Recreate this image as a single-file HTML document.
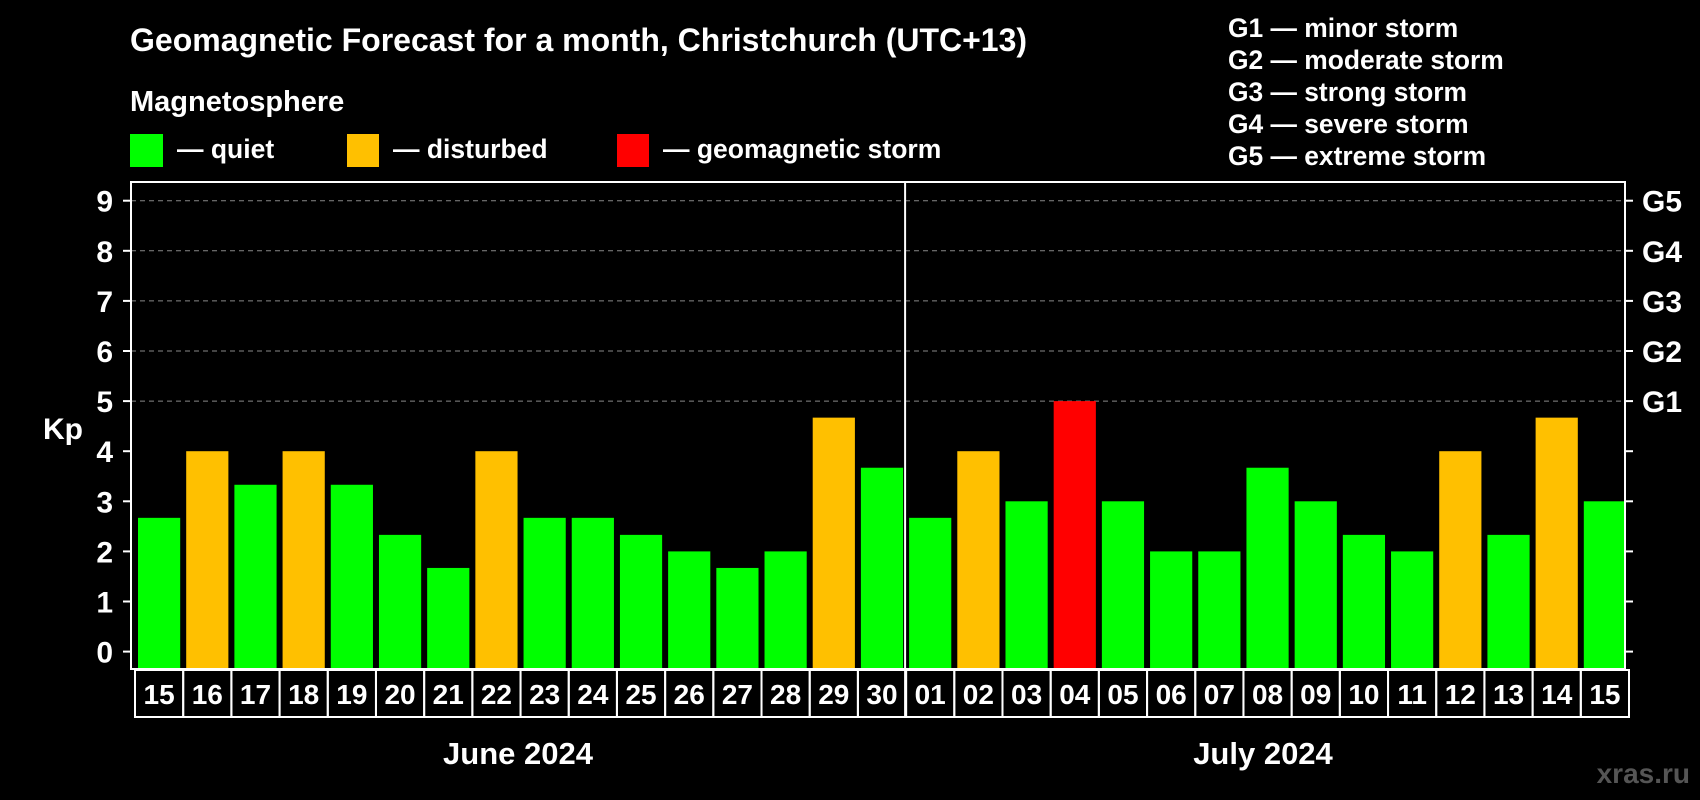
<!DOCTYPE html>
<html><head><meta charset="utf-8"><style>
html,body{margin:0;padding:0;background:#000;}
svg{display:block;font-family:"Liberation Sans",Arial,sans-serif;font-weight:bold;}
</style></head><body>
<svg id="chart" width="1700" height="800" viewBox="0 0 1700 800">
<rect width="1700" height="800" fill="#000"/>
<text x="130" y="51" fill="#fff" font-size="32">Geomagnetic Forecast for a month, Christchurch (UTC+13)</text>
<text x="130" y="111" fill="#fff" font-size="29">Magnetosphere</text>
<g><rect x="130" y="134" width="33" height="33" fill="#00ff00"/><text x="177" y="158" fill="#fff" font-size="26.5">— quiet</text></g>
<g><rect x="347" y="134" width="32" height="33" fill="#ffc000"/><text x="393" y="158" fill="#fff" font-size="26.5">— disturbed</text></g>
<g><rect x="617" y="134" width="32" height="33" fill="#ff0000"/><text x="663" y="158" fill="#fff" font-size="26.5">— geomagnetic storm</text></g>
<g fill="#fff" font-size="26.4">
<text x="1228" y="37">G1 — minor storm</text>
<text x="1228" y="69">G2 — moderate storm</text>
<text x="1228" y="101">G3 — strong storm</text>
<text x="1228" y="133">G4 — severe storm</text>
<text x="1228" y="165">G5 — extreme storm</text>
</g>
<text x="63" y="439" fill="#fff" font-size="30" text-anchor="middle">Kp</text>
<g id="grid"></g><g id="bars"></g><g id="axes"></g>
<text x="518" y="764" fill="#fff" font-size="31" text-anchor="middle">June 2024</text>
<text x="1263" y="764" fill="#fff" font-size="31" text-anchor="middle">July 2024</text>
<text x="1690" y="783" fill="#555" font-size="28" text-anchor="end">xras.ru</text>
</svg>
<script>
const days = ["15","16","17","18","19","20","21","22","23","24","25","26","27","28","29","30","01","02","03","04","05","06","07","08","09","10","11","12","13","14","15"];
const kpValues = [2.67,4,3.33,4,3.33,2.33,1.67,4,2.67,2.67,2.33,2,1.67,2,4.67,3.67,2.67,4,3,5,3,2,2,3.67,3,2.33,2,4,2.33,4.67,3];
const yTicks = [0,1,2,3,4,5,6,7,8,9];
const gLabels = ["G1","G2","G3","G4","G5"];
const NS="http://www.w3.org/2000/svg";
const L=131,R=1625,T=182,B=669;
const step=(R-L)/days.length;
const y=v=>651.6-50.1*v;
const x=i=>L+step*i;
function mk(tag,attrs,parent){const e=document.createElementNS(NS,tag);for(const k in attrs)e.setAttribute(k,attrs[k]);parent.appendChild(e);return e;}
const grid=document.getElementById('grid'),bars=document.getElementById('bars'),axes=document.getElementById('axes');
yTicks.forEach(t=>{
  if(t>=5){const g=mk('line',{x1:L,x2:R,y1:y(t),y2:y(t),stroke:'#888','stroke-dasharray':'5,4','stroke-width':1},grid);
    
    }
  const tl=mk('line',{x1:L-8,x2:L,y1:y(t),y2:y(t),stroke:'#fff','stroke-width':2},axes);
  
  
  const tr=mk('line',{x1:R,x2:R+8,y1:y(t),y2:y(t),stroke:'#fff','stroke-width':2},axes);
  
  
  const lb=mk('text',{x:113,y:y(t)+11,fill:'#fff','font-size':30,'text-anchor':'end'},axes);
  lb.textContent=t;
  
  
});
gLabels.forEach((g,i)=>{
  const lb=mk('text',{x:1642,y:y(5+i)+11,fill:'#fff','font-size':30},axes);
  lb.textContent=g;
  
  
});
kpValues.forEach((v,i)=>{
  const c=v>=5?'#ff0000':(v>=4?'#ffc000':'#00ff00');
  const b=mk('rect',{x:x(i)+7,y:y(v),width:step-6,height:B-y(v),fill:c},bars);
  
  
  const cell=mk('rect',{x:x(i)+4,y:B+1,width:step,height:47,fill:'none',stroke:'#fff','stroke-width':2},axes);
  
  
  const dl=mk('text',{x:x(i)+4+step/2,y:B+35,fill:'#fff','font-size':28,'text-anchor':'middle'},axes);
  dl.textContent=days[i];
  
  
});
const frame=mk('rect',{x:L,y:T,width:R-L,height:B-T,fill:'none',stroke:'#fff','stroke-width':2},axes);


const div=mk('line',{x1:x(16)+3,x2:x(16)+3,y1:T,y2:B+48,stroke:'#fff','stroke-width':2},axes);


</script>
</body></html>
